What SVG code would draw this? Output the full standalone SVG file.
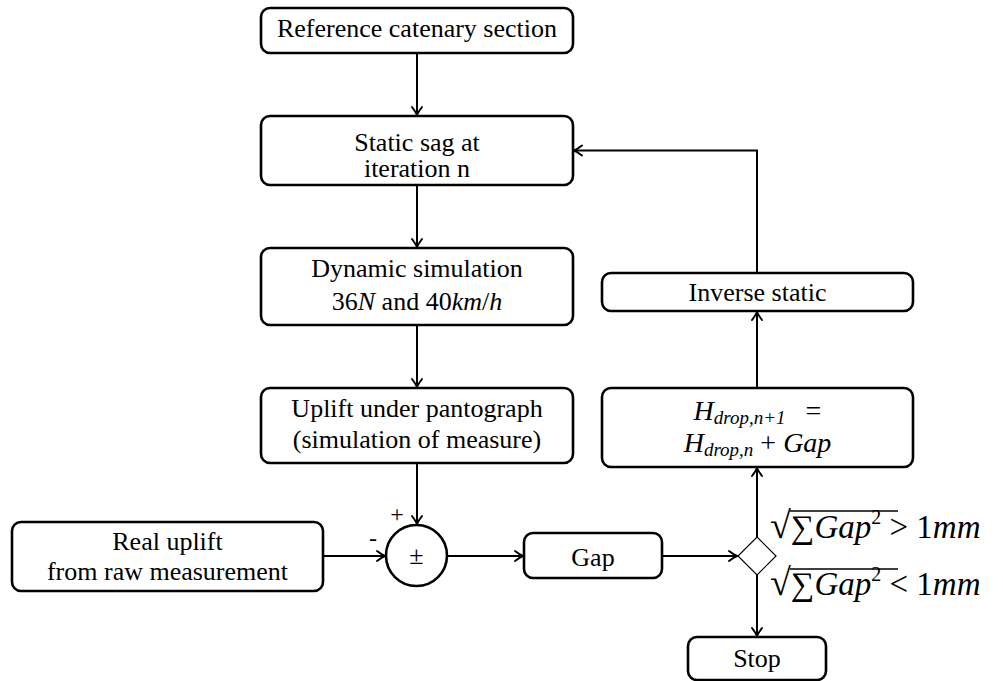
<svg xmlns="http://www.w3.org/2000/svg" xmlns:xlink="http://www.w3.org/1999/xlink" width="1003" height="681" viewBox="0 0 1003 681">
<defs>
<path id="ah" d="M-8,-5 Q-3,-1.2 0,0 Q-3,1.2 -8,5" fill="none" stroke="#000" stroke-width="2" stroke-linecap="round"/>
</defs>
<g id="connectors" fill="none" stroke="#000" stroke-width="2">
<path d="M417,53 V115"/>
<path d="M417,185 V247"/>
<path d="M417,325 V387"/>
<path d="M417,463 V524"/>
<path d="M323,556 H385"/>
<path d="M447,556 H523"/>
<path d="M662,556 H737"/>
<path d="M757,537 V468"/>
<path d="M757,388 V312"/>
<path d="M757,273 V150.5 H574"/>
<path d="M757,575 V636"/>
<use xlink:href="#ah" href="#ah" transform="translate(417,115) rotate(90)"/>
<use xlink:href="#ah" href="#ah" transform="translate(417,247) rotate(90)"/>
<use xlink:href="#ah" href="#ah" transform="translate(417,387) rotate(90)"/>
<use xlink:href="#ah" href="#ah" transform="translate(417,524) rotate(90)"/>
<use xlink:href="#ah" href="#ah" transform="translate(385,556)"/>
<use xlink:href="#ah" href="#ah" transform="translate(523,556)"/>
<use xlink:href="#ah" href="#ah" transform="translate(737,556)"/>
<use xlink:href="#ah" href="#ah" transform="translate(757,468) rotate(-90)"/>
<use xlink:href="#ah" href="#ah" transform="translate(757,312) rotate(-90)"/>
<use xlink:href="#ah" href="#ah" transform="translate(574,150.5) rotate(180)"/>
<use xlink:href="#ah" href="#ah" transform="translate(757,636) rotate(90)"/>
</g>
<g id="ref">
<rect x="261" y="8" width="312" height="45" rx="9" fill="#fff" stroke="#000" stroke-width="2.6"/>
<text font-family="Liberation Serif" font-size="26" text-anchor="middle" x="417" y="37">Reference catenary section</text>
</g>
<g id="static">
<rect x="261" y="116" width="312" height="69" rx="9" fill="#fff" stroke="#000" stroke-width="2.6"/>
<text font-family="Liberation Serif" font-size="26" text-anchor="middle" x="417" y="151">Static sag at</text>
<text font-family="Liberation Serif" font-size="26" text-anchor="middle" x="417" y="177">iteration n</text>
</g>
<g id="dynamic">
<rect x="261" y="248" width="312" height="77" rx="9" fill="#fff" stroke="#000" stroke-width="2.6"/>
<text font-family="Liberation Serif" font-size="26" text-anchor="middle" x="417" y="277">Dynamic simulation</text>
<text font-family="Liberation Serif" font-size="26" text-anchor="middle" x="417" y="310">36<tspan font-style="italic">N</tspan> and 40<tspan font-style="italic">km</tspan>/<tspan font-style="italic">h</tspan></text>
</g>
<g id="uplift">
<rect x="261" y="388" width="312" height="75" rx="9" fill="#fff" stroke="#000" stroke-width="2.6"/>
<text font-family="Liberation Serif" font-size="26" text-anchor="middle" x="417" y="417">Uplift under pantograph</text>
<text font-family="Liberation Serif" font-size="26" text-anchor="middle" x="417" y="448">(simulation of measure)</text>
</g>
<g id="real">
<rect x="12" y="522" width="311" height="69" rx="9" fill="#fff" stroke="#000" stroke-width="2.6"/>
<text font-family="Liberation Serif" font-size="26" text-anchor="middle" x="167.5" y="550">Real uplift</text>
<text font-family="Liberation Serif" font-size="26" text-anchor="middle" x="167.5" y="580">from raw measurement</text>
</g>
<g id="sum">
<circle cx="416.5" cy="555.5" r="30.5" fill="#fff" stroke="#000" stroke-width="2.6"/>
<text font-family="Liberation Serif" font-size="26" text-anchor="middle" x="416.5" y="564">&#177;</text>
<text font-family="Liberation Serif" font-size="24" text-anchor="middle" x="397" y="522">+</text>
<text font-family="Liberation Serif" font-size="24" text-anchor="middle" x="373" y="546">-</text>
</g>
<g id="gap">
<rect x="524" y="533" width="138" height="45" rx="9" fill="#fff" stroke="#000" stroke-width="2.6"/>
<text font-family="Liberation Serif" font-size="26" text-anchor="middle" x="593" y="566">Gap</text>
</g>
<g id="decision">
<path d="M757,537 L776,556 L757,575 L738,556 Z" fill="#fff" stroke="#000" stroke-width="1.2"/>
</g>
<g id="hdrop">
<rect x="602" y="388" width="311" height="79" rx="9" fill="#fff" stroke="#000" stroke-width="2.6"/>
<text font-family="Liberation Serif" font-size="28" text-anchor="middle" x="757.5" y="420"><tspan font-style="italic">H</tspan><tspan font-style="italic" font-size="19" dy="4">drop,n+1</tspan><tspan dy="-4" dx="20">=</tspan></text>
<text font-family="Liberation Serif" font-size="28" text-anchor="middle" x="757.5" y="452"><tspan font-style="italic">H</tspan><tspan font-style="italic" font-size="19" dy="4">drop,n</tspan><tspan dy="-4"> + </tspan><tspan font-style="italic">Gap</tspan></text>
</g>
<g id="inverse">
<rect x="602" y="273" width="311" height="38" rx="9" fill="#fff" stroke="#000" stroke-width="2.6"/>
<text font-family="Liberation Serif" font-size="26" text-anchor="middle" x="757.5" y="301">Inverse static</text>
</g>
<g id="stop">
<rect x="688" y="637" width="138" height="43" rx="9" fill="#fff" stroke="#000" stroke-width="2.6"/>
<text font-family="Liberation Serif" font-size="26" text-anchor="middle" x="757" y="667">Stop</text>
</g>
<g id="labels">
<text font-family="Liberation Serif" font-size="33" x="770" y="538"><tspan font-size="38">&#8730;</tspan>&#8721;<tspan font-style="italic">Gap</tspan><tspan font-size="20" dy="-14">2</tspan><tspan dy="14"> &gt; 1</tspan><tspan font-style="italic">mm</tspan></text>
<line x1="790" y1="511" x2="898" y2="511" stroke="#000" stroke-width="1.4"/>
<text font-family="Liberation Serif" font-size="33" x="770" y="595"><tspan font-size="38">&#8730;</tspan>&#8721;<tspan font-style="italic">Gap</tspan><tspan font-size="20" dy="-14">2</tspan><tspan dy="14"> &lt; 1</tspan><tspan font-style="italic">mm</tspan></text>
<line x1="790" y1="569" x2="898" y2="569" stroke="#000" stroke-width="1.4"/>
</g>
</svg>
